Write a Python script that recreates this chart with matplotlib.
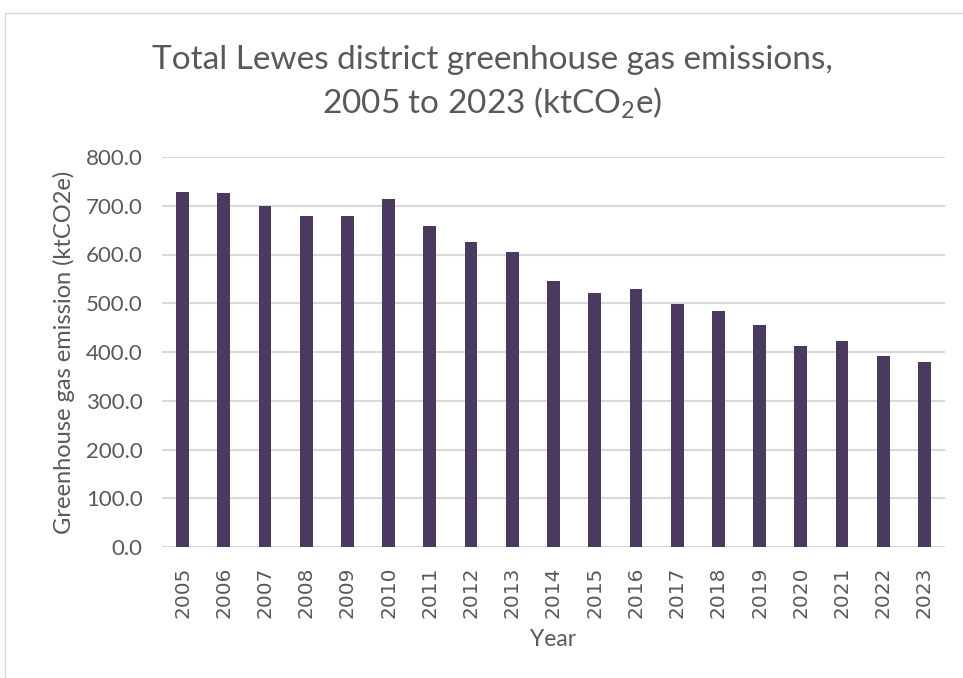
import matplotlib
matplotlib.use("Agg")
import matplotlib.pyplot as plt
from matplotlib.patches import Rectangle

years = [str(y) for y in range(2005, 2024)]
emissions = [728, 726, 700, 680, 678, 714, 659, 626, 605, 546,
             522, 529, 499, 484, 455, 412, 423, 392, 380]
yticks = [0, 100, 200, 300, 400, 500, 600, 700, 800]

BAR = "#4b3a5f"
GRID = "#d9d9d9"
TXT = "#595959"
FONT = ["Lato", "DejaVu Sans"]

W, H = 963, 678
fig = plt.figure(figsize=(W / 100, H / 100), dpi=100)

# chart area border (light grey)
fig.patches.append(Rectangle((5 / W, -0.1), 1.2, 1 - 13 / H + 0.1, transform=fig.transFigure,
                             fill=False, edgecolor="#d9d9d9", linewidth=1.0))

ax = fig.add_axes([162 / W, (H - 547) / H, (945 - 162) / W, (547 - 157) / H])
x = range(len(years))
ax.bar(x, emissions, width=0.31, color=BAR, zorder=3)
ax.set_xlim(-0.5, len(years) - 0.5)
ax.set_ylim(0, 800)
ax.set_yticks(yticks)
ax.set_yticklabels(["%.1f" % v for v in yticks], family=FONT, fontsize=16, color=TXT)
ax.set_xticks(list(x))
ax.set_xticklabels(years, rotation=90, family="DejaVu Sans", fontsize=14.5, color=TXT)
ax.tick_params(length=0)
ax.tick_params(axis="y", pad=14)
ax.tick_params(axis="x", pad=14)
ax.grid(axis="y", color=GRID, linewidth=1.5, zorder=0)
for s in ax.spines.values():
    s.set_visible(False)

ax.set_ylabel("Greenhouse gas emission (ktCO2e)", family=FONT, fontsize=17, color=TXT, labelpad=8)
ax.set_xlabel("Year", family=FONT, fontsize=16.5, color=TXT, labelpad=8)

fig.text(492 / W, 1 - 60 / H, "Total Lewes district greenhouse gas emissions,",
         ha="center", va="center", family=FONT, fontsize=24, color=TXT)
fig.text(492 / W, 1 - 103 / H, r"2005 to 2023 (ktCO$_\mathregular{2}$e)",
         ha="center", va="center", family=FONT, fontsize=24, color=TXT)

fig.savefig("out.png", dpi=100)
